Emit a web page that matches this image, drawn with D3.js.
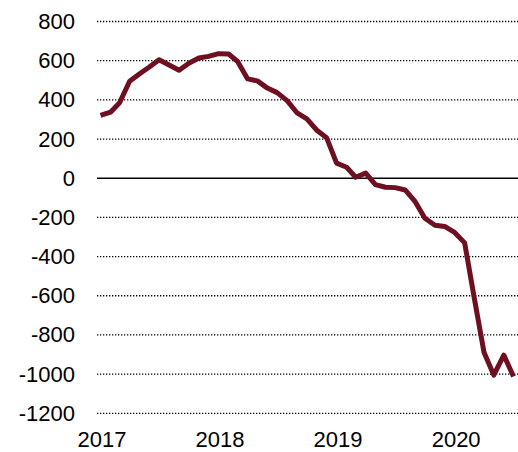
<!DOCTYPE html>
<html>
<head>
<meta charset="utf-8">
<script src="https://cdn.jsdelivr.net/npm/d3@7"></script>
<style>
  body { margin: 0; background: #fff; }
  text { font-family: "Liberation Sans", Arial, sans-serif; }
</style>
</head>
<body>
<svg id="mainSVG"></svg>
<script>
// monthly values, Jan 2017 .. Jul 2020
var startMonth = [2017, 0];
var values = [321, 337, 385, 495, 532, 568, 605, 578, 551, 587, 614, 622,
              636, 634, 596, 507, 497, 460, 437, 396, 333, 303, 245, 207,
              77, 56, 5, 26, -33, -46, -48, -60, -120, -204, -240, -246,
              -277, -330, -605, -890, -1005, -903, -1012];
var yTicks = [800, 600, 400, 200, 0, -200, -400, -600, -800, -1000, -1200];
var yearLabels = [2017, 2018, 2019, 2020];

var width = 518;
var height = 452;
var margin = { top: 21.5, right: 0, bottom: 38.7, left: 97 };

var dates = values.map(function(d, i) { return new Date(startMonth[0], startMonth[1] + i, 1); });

var svg = d3.select("#mainSVG")
    .attr("width", width)
    .attr("height", height);

// x: first month sits a few px right of the grid start
var x = d3.scaleTime()
    .domain([dates[0], dates[dates.length - 1]])
    .range([100.5, 513.5]);

var y = d3.scaleLinear()
    .domain([-1200, 800])
    .range([height - margin.bottom, margin.top]);

// horizontal grid, dotted except for zero
svg.append("g")
    .selectAll("line")
    .data(yTicks)
    .enter()
    .append("line")
    .attr("x1", margin.left)
    .attr("x2", width)
    .attr("y1", function(d) { return y(d); })
    .attr("y2", function(d) { return y(d); })
    .attr("stroke", "#000")
    .attr("stroke-width", function(d) { return d == 0 ? 1.5 : 1.3; })
    .attr("stroke-dasharray", function(d) { return d == 0 ? null : "1.3,1.7"; });

// y labels
svg.append("g")
    .selectAll("text")
    .data(yTicks)
    .enter()
    .append("text")
    .attr("x", 75)
    .attr("y", function(d) { return y(d) + 7.5; })
    .attr("text-anchor", "end")
    .style("font-size", "22px")
    .attr("fill", "#000")
    .text(function(d) { return d; });

// year labels under January
svg.append("g")
    .selectAll("text")
    .data(yearLabels)
    .enter()
    .append("text")
    .attr("x", function(d) { return x(new Date(d, 0, 1)) + 1.5; })
    .attr("y", 447)
    .attr("text-anchor", "middle")
    .style("font-size", "22px")
    .attr("fill", "#000")
    .text(function(d) { return d; });

var line = d3.line()
    .x(function(d, i) { return x(dates[i]); })
    .y(function(d) { return y(d); });

svg.append("path")
    .datum(values)
    .attr("d", line)
    .attr("fill", "none")
    .attr("stroke", "#6e1022")
    .attr("stroke-width", 5)
    .attr("stroke-linejoin", "round")
    .attr("stroke-linecap", "butt");
</script>
</body>
</html>
